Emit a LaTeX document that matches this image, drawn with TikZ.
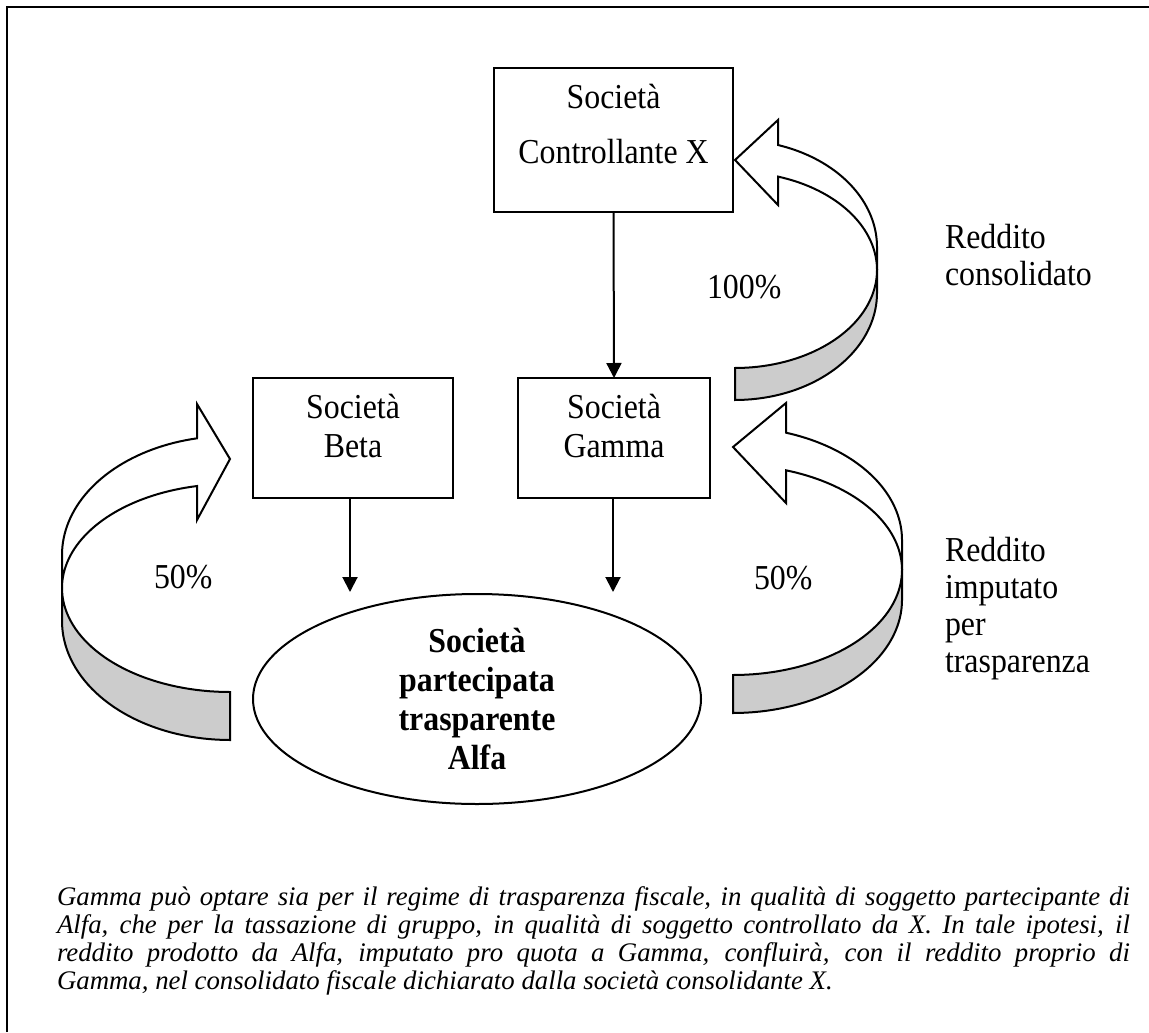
\documentclass[tikz,border=0pt]{standalone}
\usepackage{fontspec}
\setmainfont{Liberation Serif}[FakeStretch=0.91]
\newfontfamily\notefont{Liberation Serif}
\usetikzlibrary{arrows.meta,shapes.geometric}
\definecolor{bandgray}{RGB}{204,204,204}

\begin{document}
\begin{tikzpicture}[x=0.5pt,y=-0.5pt,
  every node/.style={inner sep=0pt, outer sep=0pt},
  firm/.style={draw, line width=1pt, align=center},
  link/.style={line width=1pt, -{Triangle[length=7.5pt,width=7.5pt]}},
  band/.style={draw, line width=1pt, line join=miter},
  lab/.style={font=\fontsize{17.5pt}{18.5pt}\selectfont, align=left}
]
\useasboundingbox (0,0) rectangle (1149,1032);
% frame
\draw[line width=1.3pt] (7,1032) -- (7,7) -- (1149,7);

% companies
\node[firm, minimum width=119.5pt, minimum height=72pt, text depth=16.5pt,
      font=\fontsize{17.5pt}{27.5pt}\selectfont] (ctrl) at (613.5,140) {Società\\Controllante X};
\node[firm, minimum width=100pt, minimum height=60pt, text depth=12.5pt,
      font=\fontsize{17.5pt}{19.5pt}\selectfont] (beta) at (353,438) {Società\\Beta};
\node[firm, minimum width=96pt, minimum height=60pt, text depth=12.5pt,
      font=\fontsize{17.5pt}{19.5pt}\selectfont] (gamma) at (614,438) {Società\\Gamma};
\node[draw, ellipse, line width=1pt, minimum width=224pt, minimum height=105pt] (alfa) at (477,699) {};
\node[align=center, font=\bfseries\fontsize{17.5pt}{19.5pt}\selectfont] (alfatxt) at (alfa.center)
  {Società\\partecipata\\trasparente\\Alfa};

% shareholdings
\coordinate (betaend) at (350,592);
\coordinate (gammaend) at (613,592);
\draw[link] (ctrl.south) -- (gamma.north);
\draw[link] (beta.south -| betaend) -- (betaend);
\draw[link] (gamma.south -| gammaend) -- (gammaend);

% curved arrow: consolidated income back to X
\filldraw[band, fill=white] (735,160) -- (778,120) -- (778,145)
  -- plot[domain=-72.37:0, samples=40] ({735+142*cos(\x)}, {247+107*sin(\x)})
  -- (877,270)
  -- plot[domain=0:-72.37, samples=40] ({735+142*cos(\x)}, {270+98*sin(\x)})
  -- (778,205) -- cycle;
\filldraw[band, fill=bandgray] (877,270) -- (877,293)
  -- plot[domain=0:90, samples=40] ({735+142*cos(\x)}, {293+107*sin(\x)})
  -- (735,368)
  -- plot[domain=90:0, samples=40] ({735+142*cos(\x)}, {270+98*sin(\x)})
  -- cycle;

% curved arrow: income imputed to Beta
\filldraw[band, fill=white] (230,459) -- (197,404) -- (197,438.3)
  -- plot[domain=-78.67:0, samples=40] ({230-168*cos(\x)}, {555+119*sin(\x)})
  -- (62,588)
  -- plot[domain=0:-78.67, samples=40] ({230-168*cos(\x)}, {588+104*sin(\x)})
  -- (197,520) -- cycle;
\filldraw[band, fill=bandgray] (62,588) -- (62,621)
  -- plot[domain=0:90, samples=40] ({230-168*cos(\x)}, {621+119*sin(\x)})
  -- (230,692)
  -- plot[domain=90:0, samples=40] ({230-168*cos(\x)}, {588+104*sin(\x)})
  -- cycle;

% curved arrow: income imputed to Gamma
\filldraw[band, fill=white] (733,447) -- (786,403) -- (786,432.7)
  -- plot[domain=-71.72:0, samples=40] ({733+169*cos(\x)}, {540+113*sin(\x)})
  -- (902,570)
  -- plot[domain=0:-71.72, samples=40] ({733+169*cos(\x)}, {570+105*sin(\x)})
  -- (786,503) -- cycle;
\filldraw[band, fill=bandgray] (902,570) -- (902,600)
  -- plot[domain=0:90, samples=40] ({733+169*cos(\x)}, {600+113*sin(\x)})
  -- (733,675)
  -- plot[domain=90:0, samples=40] ({733+169*cos(\x)}, {570+105*sin(\x)})
  -- cycle;

% labels
\node[lab, anchor=base west] (p100) at (707,298) {100\%};
\node[lab, anchor=base west] (p50l) at (154,588) {50\%};
\node[lab, anchor=base west] (p50r) at (754,589) {50\%};
\node[lab, anchor=north west] (rcons) at (945,224) {Reddito\\consolidato};
\node[lab, anchor=north west] (rimp) at (945,537) {Reddito\\imputato\\per\\trasparenza};

% note
\node[anchor=north west, text width=536.5pt, align=justify,
      font=\notefont\itshape\fontsize{13.4pt}{14pt}\selectfont] (note) at (57,887)
 {\hyphenpenalty=10000\exhyphenpenalty=10000\tolerance=10000
  Gamma può optare sia per il regime di trasparenza fiscale, in qualità di soggetto partecipante di\linebreak
  Alfa, che per la tassazione di gruppo, in qualità di soggetto controllato da X. In tale ipotesi, il\linebreak
  reddito prodotto da Alfa, imputato pro quota a Gamma, confluirà, con il reddito proprio di\linebreak
  Gamma, nel consolidato fiscale dichiarato dalla società consolidante X.};
\end{tikzpicture}
\end{document}
